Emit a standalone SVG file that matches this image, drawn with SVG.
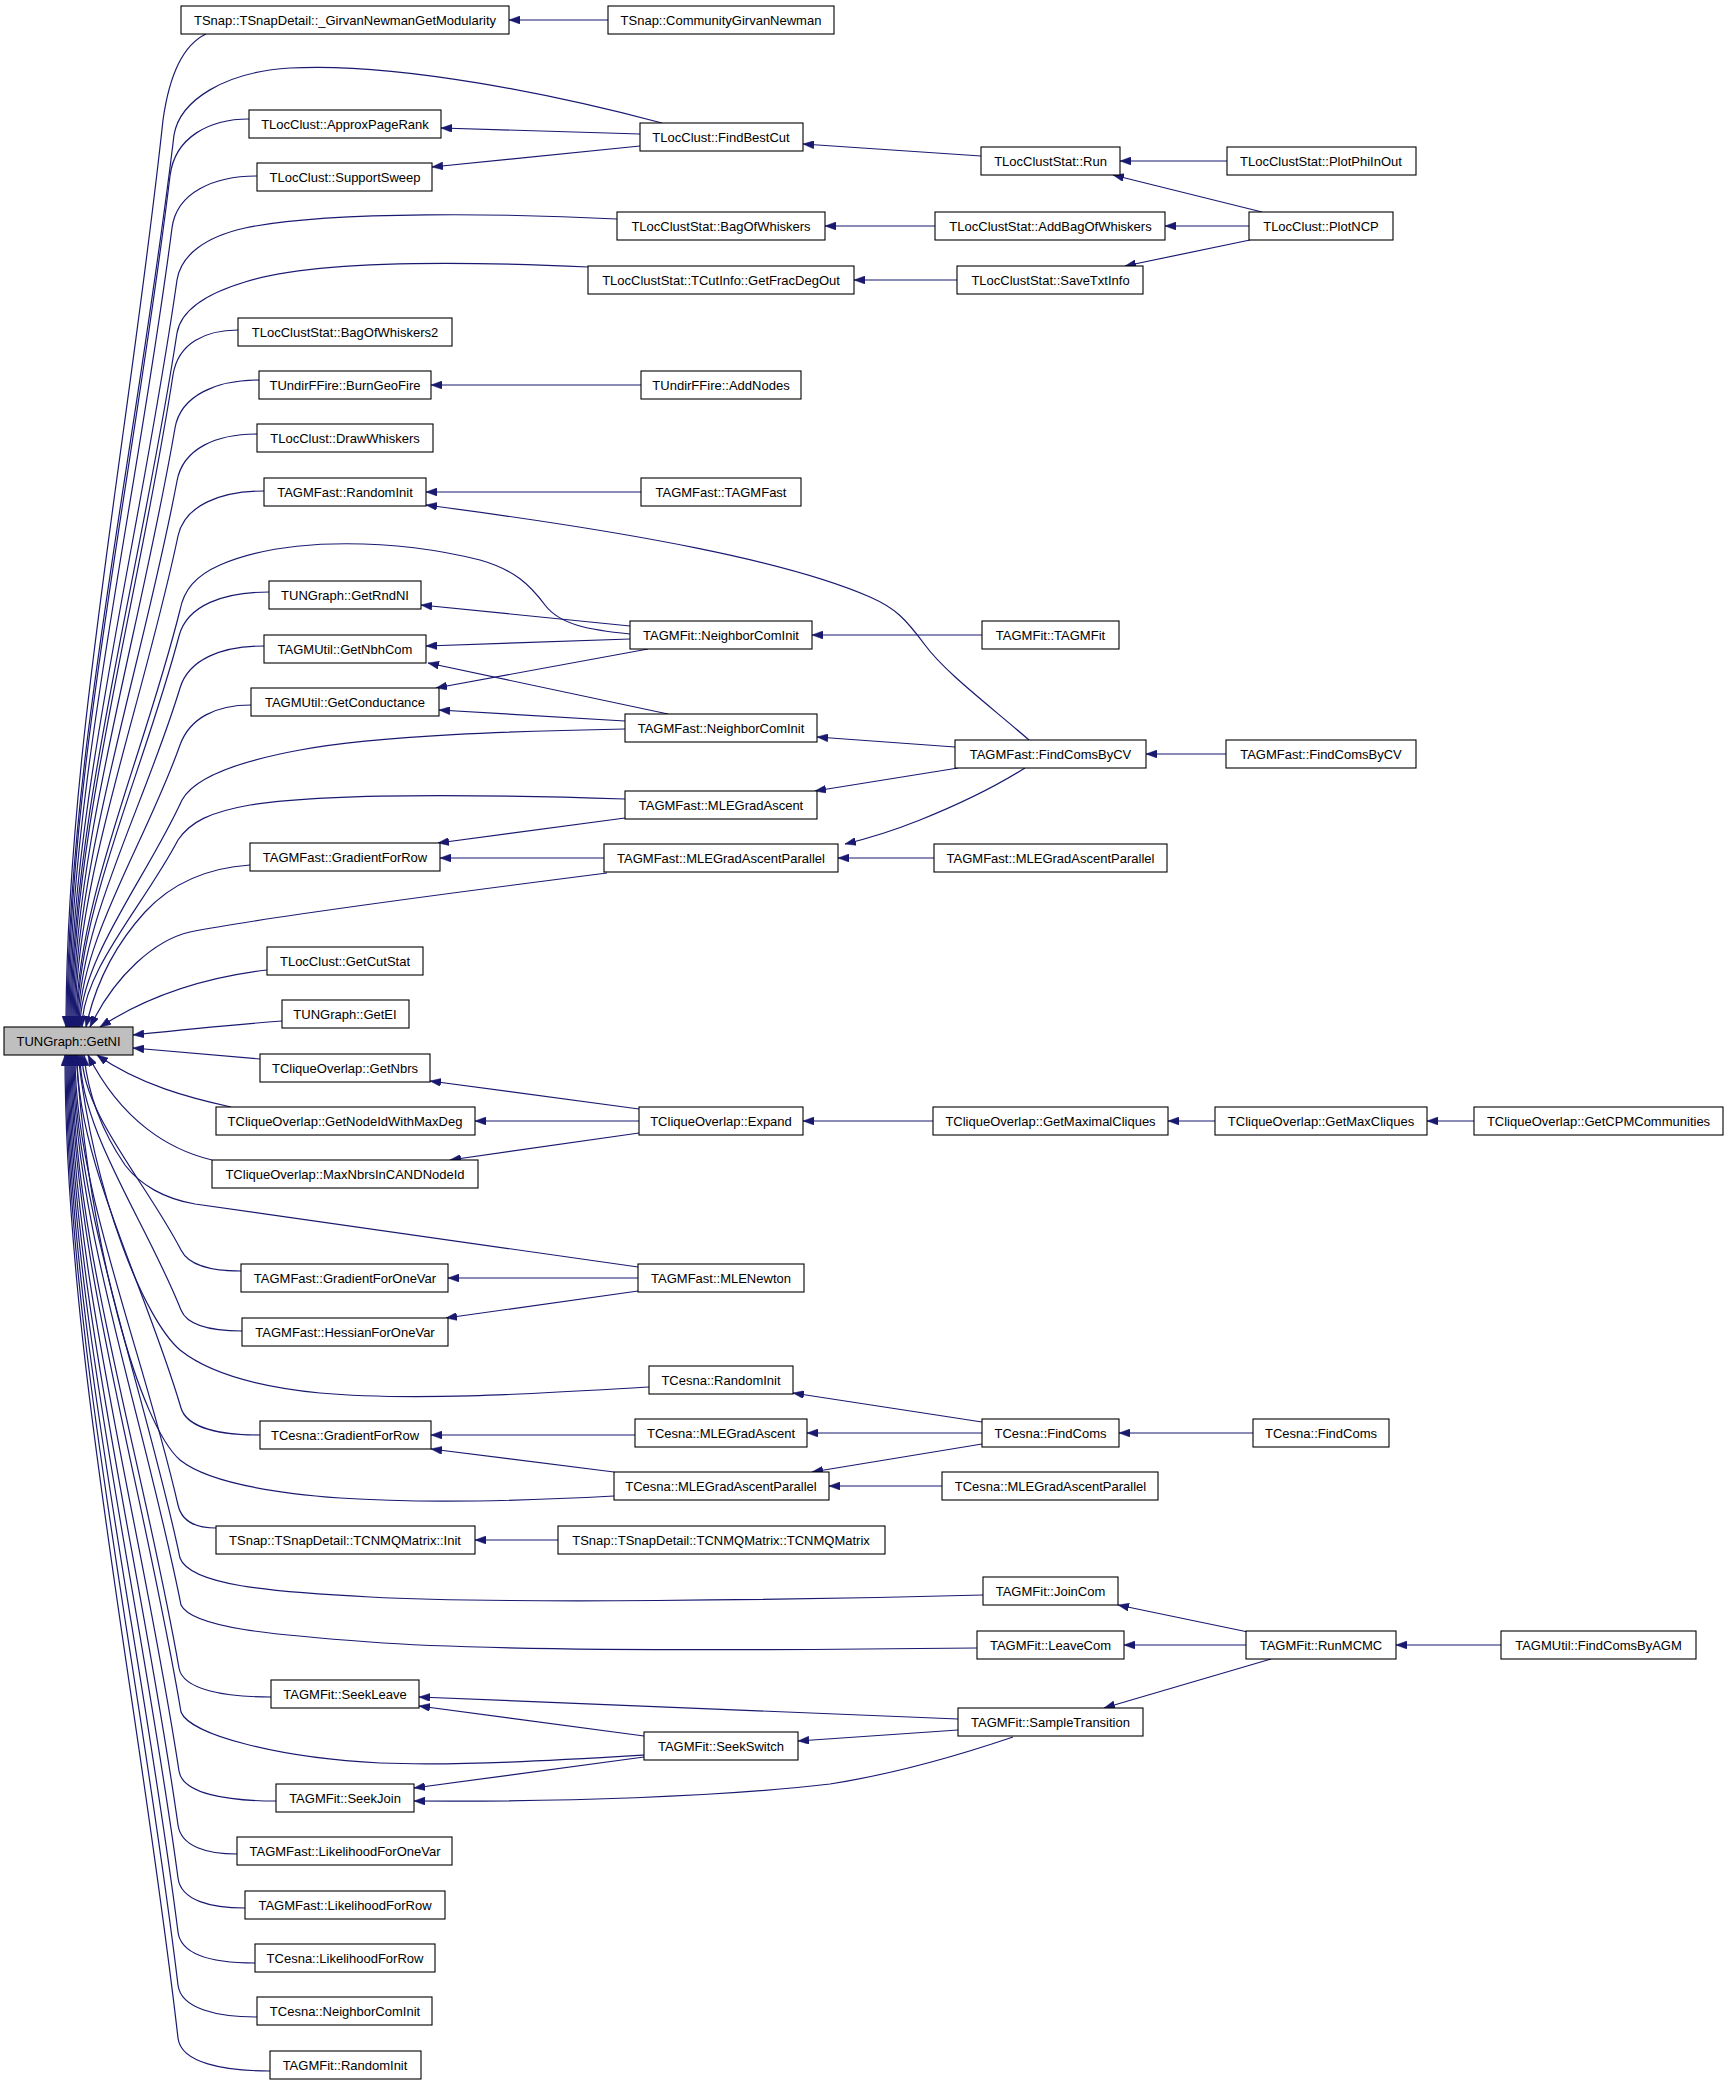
<svg xmlns="http://www.w3.org/2000/svg" width="1728" height="2085" viewBox="0 0 1728 2085">
<style>
.n rect{fill:#ffffff;stroke:#000000;stroke-width:1.1}
.n.root rect{fill:#bfbfbf}
.n text{font-family:"Liberation Sans",Arial,sans-serif;font-size:13px;text-anchor:middle;fill:#000000}
.e path{fill:none;stroke:#191970;stroke-width:1.2;marker-end:url(#ah)}
</style>
<defs>
<marker id="ah" viewBox="0 0 11 8" refX="11" refY="4" markerWidth="11" markerHeight="8" markerUnits="userSpaceOnUse" orient="auto"><path d="M0,0 L11,4 L0,8 z" fill="#191970" stroke="#191970" stroke-width="0.5"/></marker>
</defs>
<rect width="1728" height="2085" fill="#ffffff"/>
<g id="connectors" class="e">
<!-- into GetNI from above -->
<path d="M206,34 C185,44 170,70 163,120 C129,437 66,755 66,1027"/>
<path d="M662,123 C560,96 400,62 290,68 C225,72 180,100 174,135 C137,447 67,759 67,1027"/>
<path d="M249,119 C209.5,119 174.7,137 170,176 C134,474 68,772 68,1027"/>
<path d="M257,176 C214.5,176 176.6,192 172,228 C136,508 69,787 69,1027"/>
<path d="M617,219 C520,214 330,210 245,228 C205,237 181,255 177,280 C140,541 70,803 70,1027"/>
<path d="M588,267 C480,262 320,258 245,282 C205,294 181,310 177,333 C140,576 71,819 71,1027"/>
<path d="M238,330 C205.5,330 178,343 173,375 C138,603 72,831 72,1027"/>
<path d="M259,380 C217,380 180.7,395 175,428 C139,638 73,847 73,1027"/>
<path d="M257,434 C217,434 183,448 177,481 C141,672 74,863 74,1027"/>
<path d="M264,491 C221,491 184.6,505 178,536 C142,708 75,880 75,1027"/>
<path d="M630,634 C590,630 560,625 545,605 C530,585 515,570 480,560 C400,540 290,535 220,565 C195,576 184,590 180,610 C144,756 76,902 76,1027"/>
<path d="M269,592 C224,592 187,605 179,636 C143,773 77,910 77,1027"/>
<path d="M264,646 C222,646 188.7,659 180,688 C144,807 78,925 78,1027"/>
<path d="M251,705 C215.7,705 189.8,718 180,745 C145,844 79,942 79,1027"/>
<path d="M625,729 C520,731 380,735 300,750 C235,762 194,778 182,800 C146,879 80,959 80,1027"/>
<path d="M625,799 C500,795 330,792 250,805 C210,812 190,822 178,840 C144,905 82,971 82,1027"/>
<path d="M250,865 C205,868 170,885 145,912 C115,945 95,985 86,1027"/>
<path d="M607,873 C450,893 260,918 190,932 C155,940 115,975 90,1027"/>
<path d="M267,970 C225,975 160,988 100,1027"/>
<path d="M282,1021 C230,1025 180,1030 133,1035"/>
<path d="M260,1059 L133,1048"/>
<!-- into GetNI from below -->
<path d="M231,1107 C190,1098 140,1085 97,1055"/>
<path d="M212,1160 C170,1150 122,1122 88,1055"/>
<path d="M638,1267 L195,1204 C165,1199 140,1185 125,1165 C103,1133 88,1095 84,1055"/>
<path d="M241,1271 C211,1271 189,1266 181,1250 C146,1182 82,1113 82,1055"/>
<path d="M242,1331 C211.6,1331 187.4,1326 181,1310 C145.7,1221 80,1131 80,1055"/>
<path d="M649,1387 C560,1392 420,1402 320,1393 C250,1386 205,1370 180,1350 C145,1320 95,1200 78,1055"/>
<path d="M260,1435 C220.5,1435 187,1428 181,1408 C144.6,1284 77,1161 77,1055"/>
<path d="M614,1496 C540,1500 430,1504 340,1498 C260,1492 205,1480 180,1460 C140,1425 90,1250 76,1055"/>
<path d="M216,1528 C197,1528 182,1523 178,1505 C142,1347 75,1190 75,1055"/>
<path d="M983,1595 C800,1600 500,1604 370,1597 C270,1592 190,1585 180,1558 C143,1382 74,1206 74,1055"/>
<path d="M977,1648 C800,1650 500,1652 370,1642 C275,1635 192,1628 181,1605 C143,1413 73,1220 73,1055"/>
<path d="M271,1697 C225,1697 182.8,1690 179,1668 C141.5,1453 72,1239 72,1055"/>
<path d="M644,1755 C560,1760 460,1766 380,1763 C280,1758 190,1735 181,1712 C142.5,1482 71,1252 71,1055"/>
<path d="M276,1801 C227.7,1801 182.5,1794 179,1771 C140.8,1520 70,1270 70,1055"/>
<path d="M237,1854 C207.7,1854 181.1,1847 178,1825 C139.9,1555 69,1286 69,1055"/>
<path d="M245,1908 C211.5,1908 181,1901 178,1878 C139.5,1590 68,1302 68,1055"/>
<path d="M255,1963 C216.5,1963 181,1956 178,1932 C139,1625 67,1318 67,1055"/>
<path d="M257,2017 C217.7,2017 180.9,2009 178,1985 C138.8,1660 66,1334 66,1055"/>
<path d="M270,2071 C224,2071 180.8,2063 178,2038 C138.5,1694 65,1350 65,1055"/>
<!-- other connectors -->
<path d="M608,20 L509,20"/>
<path d="M640,134 L441,128"/>
<path d="M640,146 L432,167"/>
<path d="M981,156 L803,144"/>
<path d="M1227,161 L1120,161"/>
<path d="M1262,212 L1113,175"/>
<path d="M935,226 L825,226"/>
<path d="M1249,226 L1165,226"/>
<path d="M957,280 L854,280"/>
<path d="M1250,240 L1125,266"/>
<path d="M641,385 L431,385"/>
<path d="M641,492 L426,492"/>
<path d="M1029,740 C985,702 945,672 925,645 C905,618 895,608 870,597 C790,562 640,533 426,505"/>
<path d="M630,626 L421,605"/>
<path d="M630,639 L426,646"/>
<path d="M648,649 L436,688"/>
<path d="M982,635 L812,635"/>
<path d="M668,714 L428,663"/>
<path d="M625,721 L439,710"/>
<path d="M955,747 L817,737"/>
<path d="M958,768 L815,791"/>
<path d="M1025,768 C990,790 950,808 920,820 C895,830 870,838 845,844"/>
<path d="M1226,754 L1146,754"/>
<path d="M625,818 L438,843"/>
<path d="M604,858 L440,858"/>
<path d="M934,858 L838,858"/>
<path d="M639,1109 L430,1081"/>
<path d="M639,1121 L475,1121"/>
<path d="M639,1133 L450,1160"/>
<path d="M933,1121 L803,1121"/>
<path d="M1215,1121 L1168,1121"/>
<path d="M1474,1121 L1427,1121"/>
<path d="M638,1278 L448,1278"/>
<path d="M638,1291 L446,1318"/>
<path d="M982,1422 L793,1393"/>
<path d="M982,1433 L807,1433"/>
<path d="M982,1444 L812,1472"/>
<path d="M1253,1433 L1119,1433"/>
<path d="M635,1435 L431,1435"/>
<path d="M614,1472 L431,1449"/>
<path d="M942,1486 L829,1486"/>
<path d="M558,1540 L475,1540"/>
<path d="M1248,1632 L1118,1605"/>
<path d="M1246,1645 L1124,1645"/>
<path d="M1271,1659 L1104,1708"/>
<path d="M1501,1645 L1396,1645"/>
<path d="M958,1719 L419,1697"/>
<path d="M644,1736 L419,1706"/>
<path d="M958,1730 L798,1741"/>
<path d="M644,1757 L414,1788"/>
<path d="M1013,1737 C960,1755 900,1773 830,1784 C720,1797 560,1802 414,1801"/>
</g>
<g id="n0" class="n root"><rect x="4" y="1027" width="129" height="28"/><text x="68.5" y="1045.5">TUNGraph::GetNI</text></g>
<g id="n1" class="n"><rect x="181" y="6" width="328" height="28"/><text x="345" y="24.5">TSnap::TSnapDetail::_GirvanNewmanGetModularity</text></g>
<g id="n2" class="n"><rect x="249" y="110" width="192" height="28"/><text x="345" y="128.5">TLocClust::ApproxPageRank</text></g>
<g id="n3" class="n"><rect x="257" y="163" width="175" height="28"/><text x="345" y="181.5">TLocClust::SupportSweep</text></g>
<g id="n4" class="n"><rect x="238" y="318" width="214" height="28"/><text x="345" y="336.5">TLocClustStat::BagOfWhiskers2</text></g>
<g id="n5" class="n"><rect x="259" y="371" width="172" height="28"/><text x="345" y="389.5">TUndirFFire::BurnGeoFire</text></g>
<g id="n6" class="n"><rect x="257" y="424" width="176" height="28"/><text x="345" y="442.5">TLocClust::DrawWhiskers</text></g>
<g id="n7" class="n"><rect x="264" y="478" width="162" height="28"/><text x="345" y="496.5">TAGMFast::RandomInit</text></g>
<g id="n8" class="n"><rect x="269" y="581" width="152" height="28"/><text x="345" y="599.5">TUNGraph::GetRndNI</text></g>
<g id="n9" class="n"><rect x="264" y="635" width="162" height="28"/><text x="345" y="653.5">TAGMUtil::GetNbhCom</text></g>
<g id="n10" class="n"><rect x="251" y="688" width="188" height="28"/><text x="345" y="706.5">TAGMUtil::GetConductance</text></g>
<g id="n11" class="n"><rect x="250" y="843" width="190" height="28"/><text x="345" y="861.5">TAGMFast::GradientForRow</text></g>
<g id="n12" class="n"><rect x="267" y="947" width="156" height="28"/><text x="345" y="965.5">TLocClust::GetCutStat</text></g>
<g id="n13" class="n"><rect x="282" y="1000" width="127" height="28"/><text x="345" y="1018.5">TUNGraph::GetEI</text></g>
<g id="n14" class="n"><rect x="260" y="1054" width="170" height="28"/><text x="345" y="1072.5">TCliqueOverlap::GetNbrs</text></g>
<g id="n15" class="n"><rect x="216" y="1107" width="259" height="28"/><text x="345" y="1125.5">TCliqueOverlap::GetNodeIdWithMaxDeg</text></g>
<g id="n16" class="n"><rect x="212" y="1160" width="266" height="28"/><text x="345" y="1178.5">TCliqueOverlap::MaxNbrsInCANDNodeId</text></g>
<g id="n17" class="n"><rect x="241" y="1264" width="207" height="28"/><text x="345" y="1282.5">TAGMFast::GradientForOneVar</text></g>
<g id="n18" class="n"><rect x="242" y="1318" width="206" height="28"/><text x="345" y="1336.5">TAGMFast::HessianForOneVar</text></g>
<g id="n19" class="n"><rect x="260" y="1421" width="171" height="28"/><text x="345" y="1439.5">TCesna::GradientForRow</text></g>
<g id="n20" class="n"><rect x="216" y="1526" width="259" height="28"/><text x="345" y="1544.5">TSnap::TSnapDetail::TCNMQMatrix::Init</text></g>
<g id="n21" class="n"><rect x="271" y="1680" width="148" height="28"/><text x="345" y="1698.5">TAGMFit::SeekLeave</text></g>
<g id="n22" class="n"><rect x="276" y="1784" width="138" height="28"/><text x="345" y="1802.5">TAGMFit::SeekJoin</text></g>
<g id="n23" class="n"><rect x="237" y="1837" width="215" height="28"/><text x="345" y="1855.5">TAGMFast::LikelihoodForOneVar</text></g>
<g id="n24" class="n"><rect x="245" y="1891" width="200" height="28"/><text x="345" y="1909.5">TAGMFast::LikelihoodForRow</text></g>
<g id="n25" class="n"><rect x="255" y="1944" width="180" height="28"/><text x="345" y="1962.5">TCesna::LikelihoodForRow</text></g>
<g id="n26" class="n"><rect x="257" y="1997" width="175" height="28"/><text x="345" y="2015.5">TCesna::NeighborComInit</text></g>
<g id="n27" class="n"><rect x="270" y="2051" width="151" height="28"/><text x="345" y="2069.5">TAGMFit::RandomInit</text></g>
<g id="n28" class="n"><rect x="608" y="6" width="226" height="28"/><text x="721" y="24.5">TSnap::CommunityGirvanNewman</text></g>
<g id="n29" class="n"><rect x="640" y="123" width="163" height="28"/><text x="721" y="141.5">TLocClust::FindBestCut</text></g>
<g id="n30" class="n"><rect x="617" y="212" width="208" height="28"/><text x="721" y="230.5">TLocClustStat::BagOfWhiskers</text></g>
<g id="n31" class="n"><rect x="588" y="266" width="266" height="28"/><text x="721" y="284.5">TLocClustStat::TCutInfo::GetFracDegOut</text></g>
<g id="n32" class="n"><rect x="641" y="371" width="160" height="28"/><text x="721" y="389.5">TUndirFFire::AddNodes</text></g>
<g id="n33" class="n"><rect x="641" y="478" width="160" height="28"/><text x="721" y="496.5">TAGMFast::TAGMFast</text></g>
<g id="n34" class="n"><rect x="630" y="621" width="182" height="28"/><text x="721" y="639.5">TAGMFit::NeighborComInit</text></g>
<g id="n35" class="n"><rect x="625" y="714" width="192" height="28"/><text x="721" y="732.5">TAGMFast::NeighborComInit</text></g>
<g id="n36" class="n"><rect x="625" y="791" width="192" height="28"/><text x="721" y="809.5">TAGMFast::MLEGradAscent</text></g>
<g id="n37" class="n"><rect x="604" y="844" width="234" height="28"/><text x="721" y="862.5">TAGMFast::MLEGradAscentParallel</text></g>
<g id="n38" class="n"><rect x="639" y="1107" width="164" height="28"/><text x="721" y="1125.5">TCliqueOverlap::Expand</text></g>
<g id="n39" class="n"><rect x="638" y="1264" width="166" height="28"/><text x="721" y="1282.5">TAGMFast::MLENewton</text></g>
<g id="n40" class="n"><rect x="649" y="1366" width="144" height="28"/><text x="721" y="1384.5">TCesna::RandomInit</text></g>
<g id="n41" class="n"><rect x="635" y="1419" width="172" height="28"/><text x="721" y="1437.5">TCesna::MLEGradAscent</text></g>
<g id="n42" class="n"><rect x="614" y="1472" width="215" height="28"/><text x="721" y="1490.5">TCesna::MLEGradAscentParallel</text></g>
<g id="n43" class="n"><rect x="558" y="1526" width="327" height="28"/><text x="721" y="1544.5">TSnap::TSnapDetail::TCNMQMatrix::TCNMQMatrix</text></g>
<g id="n44" class="n"><rect x="644" y="1732" width="154" height="28"/><text x="721" y="1750.5">TAGMFit::SeekSwitch</text></g>
<g id="n45" class="n"><rect x="981" y="147" width="139" height="28"/><text x="1050.5" y="165.5">TLocClustStat::Run</text></g>
<g id="n46" class="n"><rect x="935" y="212" width="230" height="28"/><text x="1050.5" y="230.5">TLocClustStat::AddBagOfWhiskers</text></g>
<g id="n47" class="n"><rect x="957" y="266" width="186" height="28"/><text x="1050.5" y="284.5">TLocClustStat::SaveTxtInfo</text></g>
<g id="n48" class="n"><rect x="982" y="621" width="137" height="28"/><text x="1050.5" y="639.5">TAGMFit::TAGMFit</text></g>
<g id="n49" class="n"><rect x="955" y="740" width="191" height="28"/><text x="1050.5" y="758.5">TAGMFast::FindComsByCV</text></g>
<g id="n50" class="n"><rect x="934" y="844" width="233" height="28"/><text x="1050.5" y="862.5">TAGMFast::MLEGradAscentParallel</text></g>
<g id="n51" class="n"><rect x="933" y="1107" width="235" height="28"/><text x="1050.5" y="1125.5">TCliqueOverlap::GetMaximalCliques</text></g>
<g id="n52" class="n"><rect x="982" y="1419" width="137" height="28"/><text x="1050.5" y="1437.5">TCesna::FindComs</text></g>
<g id="n53" class="n"><rect x="942" y="1472" width="216" height="28"/><text x="1050.5" y="1490.5">TCesna::MLEGradAscentParallel</text></g>
<g id="n54" class="n"><rect x="983" y="1577" width="135" height="28"/><text x="1050.5" y="1595.5">TAGMFit::JoinCom</text></g>
<g id="n55" class="n"><rect x="977" y="1631" width="147" height="28"/><text x="1050.5" y="1649.5">TAGMFit::LeaveCom</text></g>
<g id="n56" class="n"><rect x="958" y="1708" width="185" height="28"/><text x="1050.5" y="1726.5">TAGMFit::SampleTransition</text></g>
<g id="n57" class="n"><rect x="1227" y="147" width="189" height="28"/><text x="1321" y="165.5">TLocClustStat::PlotPhiInOut</text></g>
<g id="n58" class="n"><rect x="1249" y="212" width="144" height="28"/><text x="1321" y="230.5">TLocClust::PlotNCP</text></g>
<g id="n59" class="n"><rect x="1226" y="740" width="190" height="28"/><text x="1321" y="758.5">TAGMFast::FindComsByCV</text></g>
<g id="n60" class="n"><rect x="1215" y="1107" width="212" height="28"/><text x="1321" y="1125.5">TCliqueOverlap::GetMaxCliques</text></g>
<g id="n61" class="n"><rect x="1253" y="1419" width="136" height="28"/><text x="1321" y="1437.5">TCesna::FindComs</text></g>
<g id="n62" class="n"><rect x="1246" y="1631" width="150" height="28"/><text x="1321" y="1649.5">TAGMFit::RunMCMC</text></g>
<g id="n63" class="n"><rect x="1474" y="1107" width="249" height="28"/><text x="1598.5" y="1125.5">TCliqueOverlap::GetCPMCommunities</text></g>
<g id="n64" class="n"><rect x="1501" y="1631" width="195" height="28"/><text x="1598.5" y="1649.5">TAGMUtil::FindComsByAGM</text></g>
</svg>
